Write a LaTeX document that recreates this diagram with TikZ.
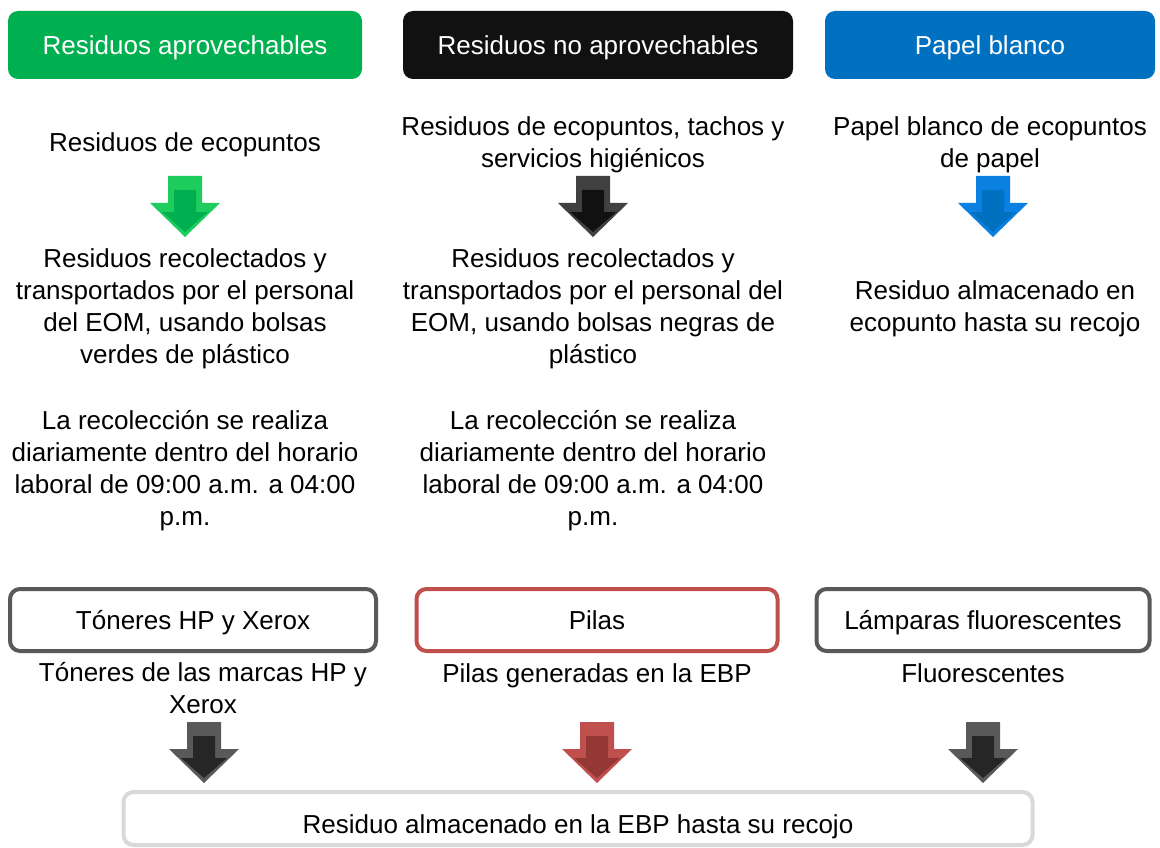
\documentclass[tikz,border=0pt]{standalone}
\usepackage{fontspec}
\setmainfont{Liberation Sans}
\definecolor{hgreen}{HTML}{00B050}
\definecolor{hblack}{HTML}{111111}
\definecolor{hblue}{HTML}{0070C0}
\definecolor{agreenL}{HTML}{1FCC5E}
\definecolor{agreenD}{HTML}{00B050}
\definecolor{ablackL}{HTML}{404040}
\definecolor{ablackD}{HTML}{111111}
\definecolor{ablueL}{HTML}{0A80E0}
\definecolor{ablueD}{HTML}{0070C0}
\definecolor{agrayL}{HTML}{595959}
\definecolor{agrayD}{HTML}{262626}
\definecolor{aredL}{HTML}{C0504D}
\definecolor{aredD}{HTML}{953735}
\definecolor{bgray}{HTML}{595959}
\definecolor{bred}{HTML}{C0504D}
\definecolor{blight}{HTML}{D9D9D9}
\newcommand\wastearrow[4]{%
  \fill[#3] (#1-17,#2) -- (#1+17,#2) -- (#1+17,#2+27) -- (#1+35,#2+27) -- (#1,#2+61) -- (#1-35,#2+27) -- (#1-17,#2+27) -- cycle;
  \fill[#4] (#1-11,#2+14) -- (#1+11,#2+14) -- (#1+11,#2+36) -- (#1+23,#2+36) -- (#1,#2+56) -- (#1-23,#2+36) -- (#1-11,#2+36) -- cycle;
}
\tikzset{
  hdr/.style={rounded corners=10pt, text=white, font=\fontsize{26}{32}\selectfont, minimum height=68pt, inner sep=0pt, text height=19pt, text depth=0pt},
  txt/.style={align=center, font=\fontsize{26}{32}\selectfont, inner sep=0pt},
  one/.style={text height=19pt, text depth=0pt},
  obox/.style={draw, line width=4pt, rounded corners=10pt, fill=white, font=\fontsize{26}{32}\selectfont, minimum height=62pt, inner sep=0pt, text height=19pt, text depth=0pt},
}
\begin{document}
\begin{tikzpicture}[x=1pt,y=-1pt]
\useasboundingbox (0,0) rectangle (1160,848);
% headers
\node[hdr, fill=hgreen, minimum width=354pt] (h1) at (185,45) {Residuos aprovechables};
\node[hdr, fill=hblack, minimum width=390pt] (h2) at (598,45) {Residuos no aprovechables};
\node[hdr, fill=hblue, minimum width=330pt] (h3) at (990,45) {Papel blanco};
% first texts
\node[txt, one] (t1) at (185,142) {Residuos de ecopuntos};
\node[txt] (t2) at (593,145) {Residuos de ecopuntos, tachos y\\servicios higiénicos};
\node[txt] (t3) at (990,145) {Papel blanco de ecopuntos\\de papel};
% arrows
\wastearrow{185}{176}{agreenL}{agreenD}
\wastearrow{593}{176}{ablackL}{ablackD}
\wastearrow{993}{176}{ablueL}{ablueD}
% second texts
\node[txt] (u1) at (185,309) {Residuos recolectados y\\transportados por el personal\\del EOM, usando bolsas\\verdes de plástico};
\node[txt] (u2) at (593,309) {Residuos recolectados y\\transportados por el personal del\\EOM, usando bolsas negras de\\plástico};
\node[txt] (u3) at (995,309) {Residuo almacenado en\\ecopunto hasta su recojo};
\node[txt] (v1) at (185,471) {La recolección se realiza\\diariamente dentro del horario\\laboral de 09:00 a.m. a 04:00\\p.m.};
\node[txt] (v2) at (593,471) {La recolección se realiza\\diariamente dentro del horario\\laboral de 09:00 a.m. a 04:00\\p.m.};
% bottom boxes
\node[obox, draw=bgray, minimum width=366pt] (b1) at (193,620) {Tóneres HP y Xerox};
\node[obox, draw=bred, minimum width=361pt] (b2) at (597,620) {Pilas};
\node[obox, draw=bgray, minimum width=333pt] (b3) at (983,620) {Lámparas fluorescentes};
\node[txt] (c1) at (203,688) {Tóneres de las marcas HP y\\Xerox};
\node[txt, one] (c2) at (597,673) {Pilas generadas en la EBP};
\node[txt, one] (c3) at (983,673) {Fluorescentes};
% bottom arrows
\wastearrow{204}{722}{agrayL}{agrayD}
\wastearrow{597}{722}{aredL}{aredD}
\wastearrow{983}{722}{agrayL}{agrayD}
% final box
\node[obox, draw=blight, minimum width=909pt, minimum height=53pt, text height=30pt] (f) at (578,818.5) {Residuo almacenado en la EBP hasta su recojo};
\end{tikzpicture}
\end{document}
